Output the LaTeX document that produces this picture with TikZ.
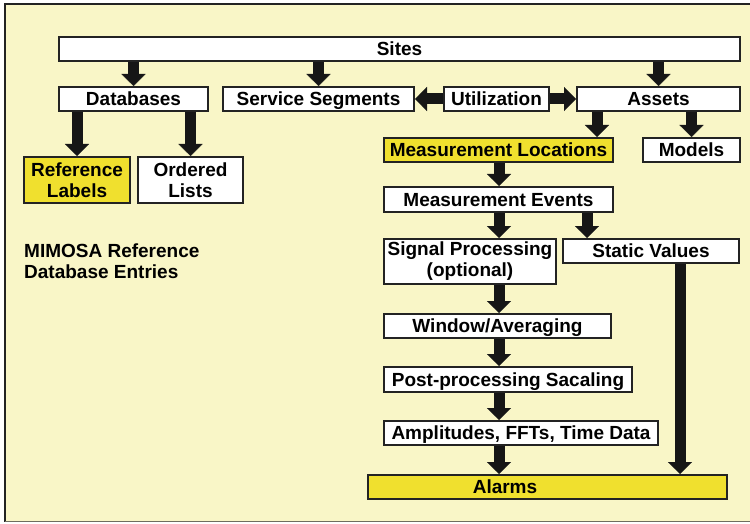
\documentclass[tikz,border=0pt]{standalone}
\usepackage{fontspec}
\setmainfont{Liberation Sans}
\usepackage{tikz}
\usetikzlibrary{arrows.meta, positioning, calc}
\definecolor{bgyellow}{RGB}{249,246,199}
\definecolor{hiyellow}{RGB}{240,224,46}
\definecolor{boxdark}{RGB}{35,35,35}
\definecolor{arrowblack}{RGB}{22,22,22}
\definecolor{framegray}{RGB}{110,110,95}
\tikzset{
  box/.style={rectangle, draw=boxdark, fill=white, line width=2pt,
    minimum height=24pt, inner sep=0pt, align=center,
    font=\fontsize{19}{21}\selectfont\bfseries},
  hbox/.style={box, fill=hiyellow},
  single/.style={text height=13.6pt, text depth=0pt},
  arrow/.style={line width=11pt, draw=arrowblack,
    -{Triangle[width=24pt, length=12pt, line width=0.1pt]}}
}

\begin{document}
\begin{tikzpicture}[x=1pt, y=-1pt]
    \useasboundingbox (0,0) rectangle (750,524);
    \fill[white] (0,0) rectangle (750,524);
    \fill[bgyellow] (5,4) rectangle (750,521.5);
    \draw[line width=2.5pt, boxdark] (750,4) -- (5,4) -- (5,521.5);
    \draw[line width=1.5pt, framegray] (5,521.5) -- (750,521.5);

    % Top rows
    \node[box, single, minimum width=681pt] (sites) at (399.5,49) {Sites};
    \node[box, single, minimum width=149pt] (db) at (133.5,99) {Databases};
    \node[box, single, minimum width=191pt] (seg) at (318.5,99) {Service Segments};
    \node[box, single, minimum width=105pt] (util) at (496.5,99) {Utilization};
    \node[box, single, minimum width=163pt] (assets) at (658.5,99) {Assets};

    % Reference entries
    \node[hbox, minimum width=106pt, minimum height=46pt] (reflab) at (77,180) {Reference\\Labels};
    \node[box, minimum width=105pt, minimum height=46pt] (ordl) at (190.5,180) {Ordered\\Lists};
    \node[anchor=north west, inner sep=0pt, align=left,
      font=\fontsize{19}{21}\selectfont\bfseries] (title) at (24,244) {MIMOSA Reference\\Database Entries};

    % Measurement chain
    \node[hbox, single, minimum width=229pt] (mloc) at (498.5,150) {Measurement Locations};
    \node[box, single, minimum width=97pt] (models) at (691.5,150) {Models};
    \node[box, single, minimum width=229pt, minimum height=25pt] (mev) at (498.5,199.5) {Measurement Events};
    \node[box, minimum width=172pt, minimum height=45pt] (sig) at (470,261.5) {Signal Processing\\(optional)};
    \node[box, single, minimum width=176pt] (stat) at (651,251) {Static Values};
    \node[box, single, minimum width=227pt] (win) at (497.5,326) {Window/Averaging};
    \node[box, single, minimum width=248pt, minimum height=25pt] (post) at (508,379.5) {Post-processing Sacaling};
    \node[box, single, minimum width=274pt] (amp) at (521,433) {Amplitudes, FFTs, Time Data};
    \node[hbox, single, minimum width=359pt] (alarms) at (547.5,487) {Alarms\hspace*{85pt}};

    \coordinate (col) at (499,0);
    \coordinate (side) at (587,0);
    \coordinate (right) at (680,0);
    \coordinate (loc) at (597,0);

    % Arrows
    \draw[arrow] (db.north |- sites.south) -- (db.north);
    \draw[arrow] (seg.north |- sites.south) -- (seg.north);
    \draw[arrow] (assets.north |- sites.south) -- (assets.north);
    \draw[arrow] (util.west) -- (seg.east);
    \draw[arrow] (util.east) -- (assets.west);
    \draw[arrow] (reflab.north |- db.south) -- (reflab.north);
    \draw[arrow] (ordl.north |- db.south) -- (ordl.north);
    \draw[arrow] (loc |- assets.south) -- (loc |- mloc.north);
    \draw[arrow] (models.north |- assets.south) -- (models.north);
    \draw[arrow] (col |- mloc.south) -- (col |- mev.north);
    \draw[arrow] (col |- mev.south) -- (col |- sig.north);
    \draw[arrow] (side |- mev.south) -- (side |- stat.north);
    \draw[arrow] (col |- sig.south) -- (col |- win.north);
    \draw[arrow] (col |- win.south) -- (col |- post.north);
    \draw[arrow] (col |- post.south) -- (col |- amp.north);
    \draw[arrow] (col |- amp.south) -- (col |- alarms.north);
    \draw[arrow] (right |- stat.south) -- (right |- alarms.north);
\end{tikzpicture}
\end{document}
